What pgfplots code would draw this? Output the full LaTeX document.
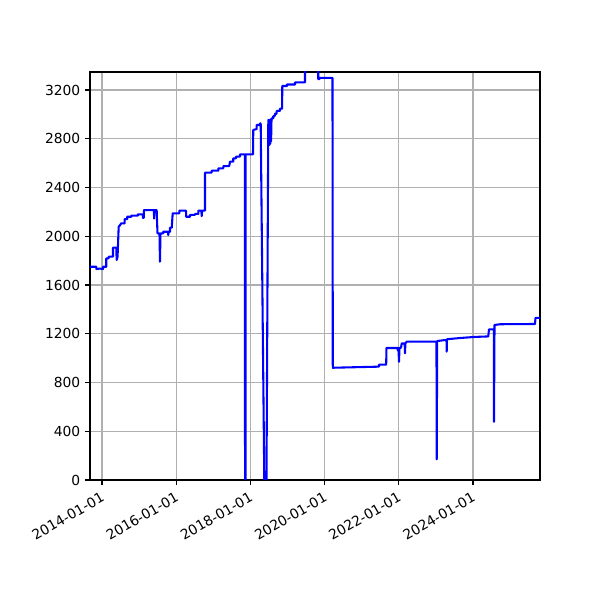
\documentclass[border=0pt]{standalone}
\usepackage{fontspec}
\setmainfont{DejaVu Sans}
\usepackage{pgfplots}
\pgfplotsset{compat=1.18}

\definecolor{gridgray}{HTML}{B0B0B0}

\begin{document}
\begin{tikzpicture}
	\useasboundingbox (0,0) rectangle (6in,6in);
	\begin{axis}[
			at={(0.9in,1.2in)}, anchor=south west,
			scale only axis, width=4.5in, height=4.08in,
			xmin=2013.677, xmax=2025.806, ymin=0, ymax=3347.7,
			xtick={2014,2016,2018,2020,2022,2024},
			xticklabels={2014-01-01,2016-01-01,2018-01-01,2020-01-01,2022-01-01,2024-01-01},
			ytick={0,400,...,3200},
			scaled y ticks=false,
			/pgf/number format/1000 sep={},
			/pgf/number format/assume math mode=true,
			xticklabel style={rotate=30, anchor=north east},
			ticklabel style={font=\fontsize{10}{12}\selectfont},
			tick align=outside, xtick pos=left, ytick pos=left,
			major tick length=3.5pt,
			tick style={black, line width=0.8pt},
			axis line style={line width=0.8pt},
			grid=major,
			major grid style={gridgray, line width=0.8pt},
		]
		\addplot[blue, line width=1.5pt, line join=round, mark=none] coordinates {
			(2013.677,1750) (2013.846,1750) (2013.850,1731) (2013.946,1735)
			(2014.027,1731) (2014.030,1750) (2014.116,1750) (2014.116,1819)
			(2014.181,1819) (2014.181,1833) (2014.296,1833) (2014.296,1906)
			(2014.385,1906) (2014.396,1805) (2014.420,1830) (2014.450,2079)
			(2014.472,2085) (2014.520,2106) (2014.612,2106) (2014.612,2141)
			(2014.682,2141) (2014.682,2160) (2014.790,2160) (2014.790,2169)
			(2014.970,2169) (2014.970,2180) (2015.100,2180) (2015.105,2150)
			(2015.125,2150) (2015.132,2215) (2015.400,2215) (2015.405,2145)
			(2015.415,2215) (2015.474,2215) (2015.496,2024) (2015.550,2024)
			(2015.563,1791) (2015.577,2024) (2015.652,2024) (2015.652,2037)
			(2015.779,2037) (2015.787,2010) (2015.798,2037) (2015.833,2037)
			(2015.833,2070) (2015.880,2070) (2015.906,2188) (2016.084,2188)
			(2016.084,2210) (2016.264,2210) (2016.270,2160) (2016.372,2160)
			(2016.372,2175) (2016.507,2175) (2016.507,2183) (2016.596,2183)
			(2016.596,2210) (2016.680,2210) (2016.687,2165) (2016.701,2210)
			(2016.776,2210) (2016.776,2522) (2016.957,2522) (2016.957,2538)
			(2017.135,2538) (2017.135,2557) (2017.270,2557) (2017.270,2576)
			(2017.430,2576) (2017.450,2612) (2017.539,2612) (2017.539,2639)
			(2017.612,2639) (2017.612,2653) (2017.720,2653) (2017.720,2672)
			(2017.854,2672) (2017.856,0) (2017.868,0) (2017.871,2672)
			(2018.070,2672) (2018.078,2872) (2018.170,2880) (2018.170,2913)
			(2018.259,2913) (2018.259,2926) (2018.278,2926) (2018.375,0)
			(2018.434,0) (2018.483,2954) (2018.493,2749) (2018.504,2954)
			(2018.515,2749) (2018.526,2954) (2018.536,2760) (2018.547,2960)
			(2018.558,2780) (2018.570,2967) (2018.617,2967) (2018.617,2986)
			(2018.660,2986) (2018.660,3005) (2018.709,3005) (2018.709,3028)
			(2018.798,3028) (2018.798,3047) (2018.855,3047) (2018.860,3233)
			(2018.987,3233) (2018.987,3245) (2019.202,3245) (2019.202,3262)
			(2019.472,3262) (2019.472,3600) (2019.830,3600) (2019.830,3290)
			(2019.863,3290) (2019.863,3300) (2020.213,3300) (2020.221,921)
			(2021.466,930) (2021.466,946) (2021.660,946) (2021.668,1083)
			(2021.965,1083) (2021.978,1060) (2021.992,1083) (2022.005,970)
			(2022.019,1083) (2022.060,1085) (2022.078,1120) (2022.159,1120)
			(2022.167,1040) (2022.178,1120) (2022.213,1135) (2023.016,1135)
			(2023.022,170) (2023.035,1140) (2023.286,1150) (2023.291,1053)
			(2023.299,1155) (2023.650,1165) (2024.054,1174) (2024.412,1178)
			(2024.431,1236) (2024.561,1236) (2024.566,478) (2024.580,1272)
			(2024.728,1278) (2025.671,1280) (2025.685,1330) (2025.806,1330)
		};
	\end{axis}
\end{tikzpicture}
\end{document}
